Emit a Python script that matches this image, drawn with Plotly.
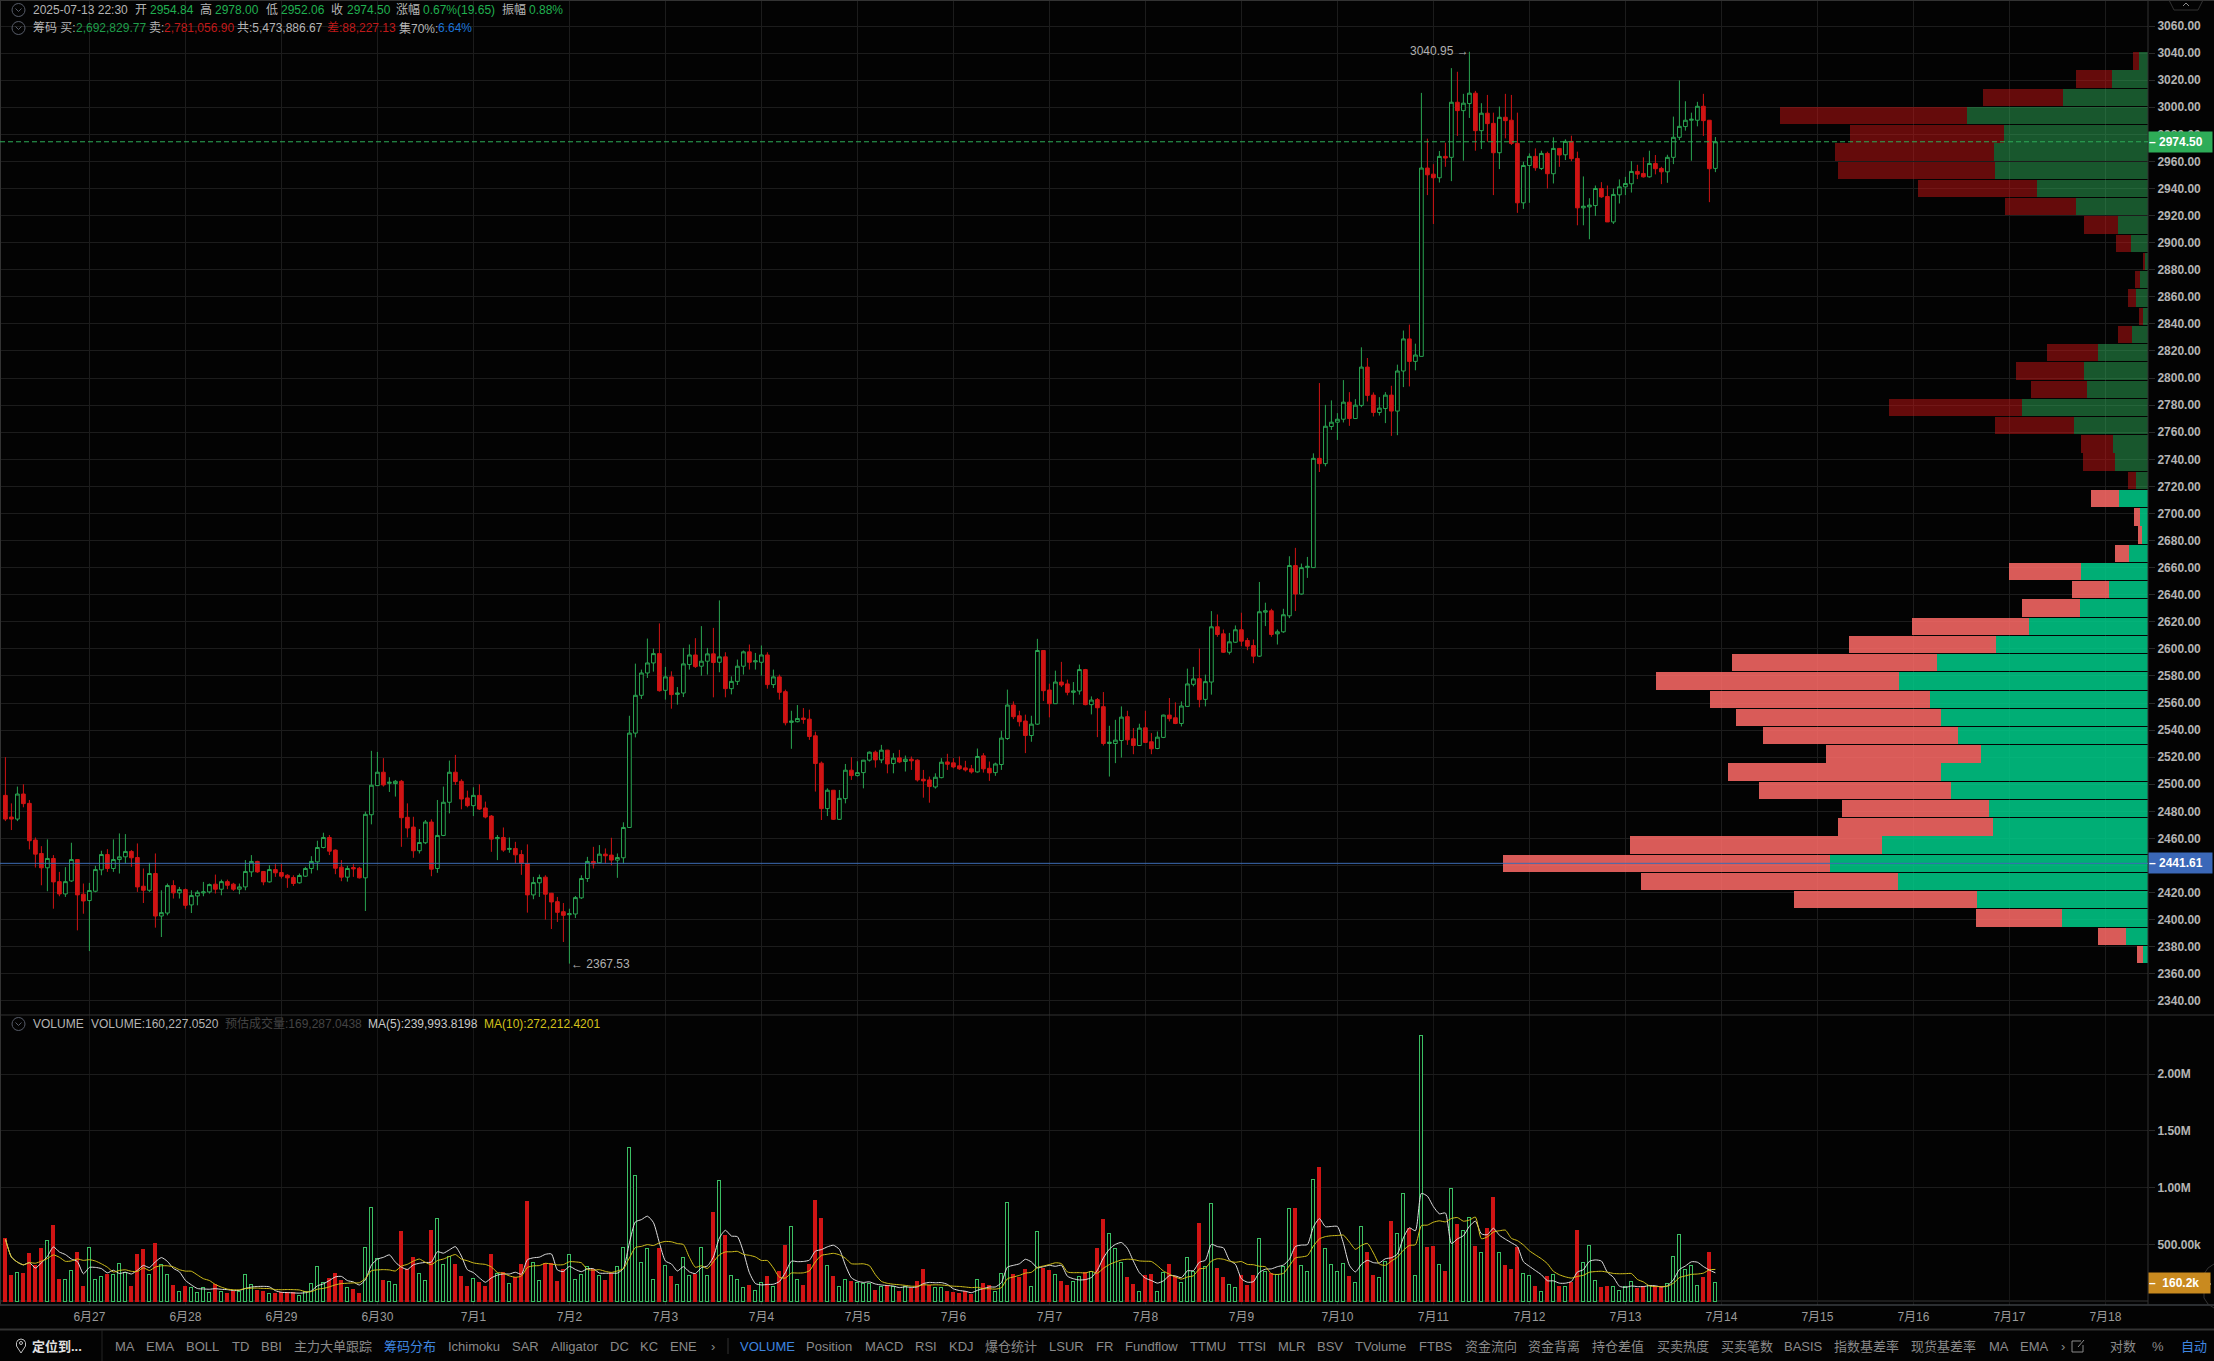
import pandas as pd
import plotly.graph_objects as go

W, H = 2214, 1361

opens = [2491.8,2475.8,2474.3,2492.8,2485.9,2458.8,2448.9,2438.3,2445.2,2428.1,
2419,2428.6,2444.4,2418.8,2414.1,2421,2436.8,2448.1,2437.8,2444.4,
2446.4,2450.4,2445.9,2424.7,2421.7,2434.1,2402.7,2404.9,2425.2,2419.8,
2422.2,2410.9,2417.5,2419.8,2420.5,2426.2,2422.5,2428.1,2426.2,2422.5,
2424.2,2435.3,2443,2435.6,2427.9,2437,2434.8,2432.8,2431.1,2427.2,
2432.1,2437.8,2442.7,2453.3,2460.7,2451.4,2438.8,2431.4,2438.5,2438,
2430.9,2477.5,2499,2508.9,2500.7,2500.5,2502.2,2475.6,2468.4,2450.9,
2456.8,2472.1,2437.8,2462.2,2486.7,2508.9,2502.2,2489.9,2484.2,2491.8,
2482.5,2476.5,2459.8,2460.7,2451.9,2452.6,2448.1,2441.5,2418.3,2427.2,
2431.4,2419.5,2413.3,2405.9,2403.7,2404.2,2416.1,2430.4,2443,2442,
2448.4,2447.7,2444,2445.7,2468.1,2537.8,2565.7,2582.2,2589.6,2596.5,
2569.4,2579.3,2566.4,2567.4,2588.4,2595.5,2587.2,2590.9,2596.3,2590.1,
2594.1,2570.6,2576,2587.2,2597.8,2590.4,2590.1,2595.5,2573.6,2579.3,
2568.4,2545.7,2546.2,2548.9,2548.1,2535.8,2515.6,2482,2495.6,2474.1,
2489.4,2510.4,2506.4,2508.6,2517.8,2523.7,2518,2525.2,2515.3,2519.5,
2516.8,2518.5,2517.8,2503.7,2503.2,2498,2504.9,2516.5,2515.8,2513.6,
2512.1,2511.4,2509.1,2521,2511.8,2508.6,2514.6,2533.8,2558.5,2550.6,
2546.7,2536,2544.4,2598.8,2569.6,2559.5,2575.5,2574.1,2567.9,2568.9,
2584.7,2558.8,2562.5,2557.3,2530.1,2530.1,2532.3,2549.9,2533.6,2528.6,
2541.7,2531.4,2526.4,2534.6,2551.1,2549.1,2544.9,2557.5,2573.8,2578,
2562.7,2575.5,2616.3,2611.1,2597.5,2604.9,2614.1,2606.2,2602.5,2594.6,
2627.1,2628.1,2611.1,2612.6,2624.4,2661.5,2640.5,2660,2660,2740.7,
2736.8,2764.2,2767.4,2769.6,2782.2,2770.1,2779.8,2808.1,2787.4,2774.6,
2777.5,2787.4,2775.6,2805.2,2828.9,2812.3,2816,2955.1,2950.6,2947.9,
2963.7,2963,3003.7,2997.5,3002.7,3010.4,2982.7,2995.6,2988.1,2966.4,
2992.6,2990.4,2973.3,2929.4,2957,2963.7,2954.8,2965.9,2950.9,2969.6,
2964.9,2974.8,2962.2,2925.7,2926.4,2927.4,2940,2934.1,2915.3,2935.3,
2941.2,2943.5,2952.6,2951.1,2948.6,2958.5,2954.8,2952.3,2963,2977.8,
2985.7,2990.4,2990.4,3000.7,2990.4,2954.84]

highs = [2520,2485.9,2498.3,2500,2488.4,2460.7,2454.3,2459.3,2447.7,2435.3,
2438.8,2456.8,2444.4,2426.7,2427.2,2439.8,2450.9,2452.1,2459.3,2463.7,
2463.2,2451.4,2456.3,2437.8,2442,2448.9,2421.7,2426.7,2429.1,2424.2,
2423,2421.7,2421.7,2427.9,2426.7,2433.3,2429.6,2429.6,2427.2,2426.7,
2444,2447.7,2443.5,2435.8,2440.2,2441,2441,2433.6,2432.8,2434.1,
2439,2446.9,2458.3,2464.2,2462.5,2451.9,2444,2439.8,2441,2439,
2479.8,2524.7,2523.9,2519.3,2505.2,2503.2,2503.2,2485.9,2476,2466.9,
2473.6,2474.1,2488.4,2498.3,2517.5,2521.7,2503.7,2495.3,2497.8,2500,
2487.2,2477.3,2462.5,2468.1,2460.7,2457.5,2451.4,2455.6,2431.6,2433.3,
2432.8,2419.8,2416.8,2412.3,2408.1,2417.5,2432.8,2446.4,2453.8,2455.1,
2452.6,2460.5,2448.9,2471.9,2550.6,2589.1,2584.7,2607.6,2600.2,2618.8,
2586.7,2583.4,2571.8,2600.7,2603.2,2607.9,2616.8,2600.7,2615.5,2635.8,
2597.5,2579.7,2592.1,2598.8,2603.2,2597,2602.5,2597.5,2584.7,2581,
2569.9,2554.3,2558.5,2556.3,2555.1,2538.8,2516.8,2497,2495.8,2495.8,
2515,2520,2517,2518,2524.2,2524.9,2529.1,2525.4,2523,2525.4,
2521.2,2520.5,2518.5,2510.6,2505.7,2508.1,2519.3,2522.5,2519.3,2520.5,
2517.3,2514.3,2526.4,2523,2516.8,2516,2539.5,2569.9,2561.2,2554.3,
2551.4,2550.6,2607.4,2598.8,2574.3,2583.9,2590.4,2577.3,2575.5,2588.4,
2585.2,2564.9,2563.7,2568.1,2543.2,2547.6,2557.5,2554.3,2541.5,2544.7,
2554.3,2537.8,2539,2551.4,2563.7,2560.5,2561.2,2585.4,2586.7,2600.2,
2581,2627.9,2625.4,2614.3,2611.8,2617.3,2626.7,2608.1,2606.9,2649.4,
2634.1,2629.6,2614.3,2629.6,2668.4,2674.6,2663,2667.9,2744.4,2796.3,
2780.2,2783.5,2774.1,2798.5,2789.6,2784.4,2822.7,2814.8,2789.4,2785.9,
2789.6,2794.3,2809.9,2835.1,2839.5,2825.4,3010.6,2976.8,2958,2967.7,
2973.8,3028.9,3026.2,3009.9,3040.95,3012.1,3003,3009.1,2996,3000.5,
3009.9,3009.1,2996,2959.8,2965.9,2969.6,2967.9,2967.2,2977.8,2969.6,
2976.3,2979,2967.2,2948.9,2932.8,2942.2,2944.7,2942.2,2940,2946.7,
2948.6,2960.2,2957.5,2963,2967.9,2964.7,2956,2964.9,2993.1,3019.8,
3004.4,2996,3004,3009.9,2990.6,2978]

lows = [2472.8,2466.2,2472.8,2483,2451.9,2438.5,2425.4,2421,2408.1,2417.3,
2416.8,2427.9,2392.1,2404.4,2376.8,2420.2,2432.8,2435.3,2435.3,2434.1,
2441.5,2439,2420.5,2412.3,2420.5,2394.1,2387.2,2403.2,2415.6,2415.6,
2408.1,2404.9,2410.6,2417.3,2419.3,2419.3,2418,2422.5,2421.2,2418.8,
2421.7,2431.6,2434.6,2425.4,2427.4,2431.6,2430.4,2423.5,2424.9,2426.7,
2431.6,2434.1,2436.5,2452.6,2447.7,2433.6,2428.4,2428.1,2431.6,2430.4,
2406.4,2470.4,2498.8,2498.3,2494.3,2490.9,2453.8,2460.7,2445.7,2448.9,
2455.8,2432.1,2434.6,2461.7,2478.5,2499.5,2481.5,2483,2476.5,2481,
2474.8,2450.1,2444,2450.1,2449.4,2441.5,2433.1,2405.2,2415.1,2416.8,
2400,2393.1,2398.3,2383.5,2367.53,2401.2,2415.3,2427.9,2437.8,2441.5,
2441.5,2440.2,2430.9,2441.5,2468.1,2534.6,2563,2578.5,2583.2,2568.4,
2562.5,2555.8,2558.8,2564.4,2584.7,2585.9,2580.2,2581,2564.2,2582.7,
2564.2,2566.4,2573.3,2581,2584.7,2584.7,2580.2,2570.6,2571.1,2562.5,
2543.5,2526.2,2545.7,2544.7,2532.8,2494.6,2473.6,2476.5,2473.6,2473.6,
2485.9,2503.2,2505.7,2497,2516.8,2512.3,2515.6,2508.1,2508.1,2515.6,
2509.4,2510.6,2502,2490.1,2486.4,2496.8,2504.4,2510.6,2511.8,2510.6,
2509.4,2507.9,2508.6,2508.6,2502.5,2506.2,2510.6,2532.8,2548.1,2542.7,
2523,2531.4,2543.9,2561.5,2549.4,2559.5,2571.8,2565.7,2558.8,2566.2,
2558.3,2551.6,2534.8,2528.6,2505.7,2515.6,2519.7,2529.1,2522.2,2528.4,
2530.4,2522.2,2525.9,2534.1,2546.4,2544.4,2542.7,2557,2572.3,2556.8,
2557.5,2566.2,2608.9,2597,2595.8,2604.4,2602,2599,2589.4,2594.1,
2616.8,2608.9,2603.2,2611.8,2622.7,2627.9,2640,2652.4,2660,2730.6,
2734.8,2761.7,2754.3,2767.2,2764.7,2769.9,2778.5,2782.7,2771.6,2772.3,
2766.7,2757.3,2757.8,2793.3,2793.8,2805.7,2816,2935.1,2913.8,2944.4,
2956,2945.4,2978.8,2960.5,2992.1,2967.9,2969.1,2974.6,2935.1,2954.3,
2977,2972.1,2922,2924.9,2929.4,2953.1,2953.6,2940,2943.7,2956,
2961,2960.2,2912.8,2912.8,2902.5,2919.8,2933.1,2915.3,2913.8,2928.9,
2935.1,2937,2946.9,2948.1,2948.1,2950.4,2943.2,2944.2,2958,2975.8,
2982.7,2960.5,2985.9,2978.8,2929.9,2952.06]

closes = [2474.3,2474.3,2492.8,2485.7,2458.3,2448.4,2438.3,2445.2,2427.9,2419,
2428.1,2444.4,2418.3,2413.8,2421.5,2437,2448.1,2437.8,2444.4,2446.4,
2450.4,2445.7,2424.2,2421.7,2434.1,2402.7,2405.2,2425.2,2419.8,2422.2,
2410.6,2417.8,2420.2,2420.5,2425.9,2422.5,2428.1,2425.4,2422.5,2424.2,
2435.6,2443,2435.3,2427.9,2437,2434.6,2432.1,2430.9,2426.7,2432.6,
2437.8,2443,2453.3,2460.7,2450.6,2438,2431.4,2437.8,2437.5,2430.9,
2477.8,2499.3,2508.9,2499.5,2501.5,2502.2,2475.3,2467.7,2450.9,2457,
2472.1,2437.3,2462.2,2486.7,2508.9,2502,2489.1,2484.2,2491.8,2481.7,
2475.8,2459.5,2460.7,2451.4,2452.6,2447.9,2441.5,2418.3,2427.4,2431.1,
2418.8,2413.1,2405.4,2403.2,2404.4,2416.3,2430.4,2443,2441.2,2448.4,
2447.2,2444,2445.9,2468.1,2537.8,2565.7,2582.2,2589.6,2596.5,2569.1,
2579.3,2566.2,2567.4,2588.9,2595.5,2586.9,2590.9,2596.3,2589.9,2594.1,
2570.6,2576,2587.2,2597.8,2590.1,2591.1,2595.5,2573.6,2579.3,2567.9,
2545.4,2546.7,2548.6,2547.9,2535.3,2515.3,2482,2495.6,2474.1,2489.6,
2510.4,2506.4,2508.6,2517.8,2523.7,2518,2525.2,2515,2519.3,2516.5,
2518.5,2517.3,2503.2,2502.5,2498.3,2505.2,2516.3,2514.8,2512.8,2511.4,
2510.6,2509.1,2520.5,2511.4,2508.4,2515,2534.1,2558.5,2549.9,2546.2,
2536,2544.4,2598.8,2569.1,2559.5,2575.5,2573.3,2567.9,2568.9,2584.7,
2558.8,2562.2,2556.5,2530.1,2531.1,2532.6,2549.6,2532.8,2528.6,2541.5,
2530.9,2526.2,2534.8,2551.1,2548.4,2544.9,2557.8,2574.1,2577.8,2562.5,
2575.8,2616.3,2610.6,2597.5,2605.2,2614.1,2605.7,2602,2594.6,2627.4,
2628.1,2610.6,2612.6,2625.2,2661.5,2640.5,2660,2661,2740.7,2736.8,
2764.4,2767.4,2769.6,2782.2,2770.1,2780,2808.1,2787.2,2774.6,2777.8,
2787.4,2775.6,2805.2,2828.9,2812.3,2817,2955.1,2950.1,2947.9,2963.7,
2962.5,3003.7,2997.5,3003,3010.4,2982.7,2995.6,2987.9,2966.4,2992.6,
2990.1,2973.3,2929.4,2957,2963.7,2955.3,2965.9,2950.9,2969.6,2964.7,
2974.8,2962,2925.7,2926.9,2927.7,2940,2933.8,2915.3,2935.6,2941.2,
2943.7,2952.6,2950.6,2948.6,2958.5,2954.6,2952.3,2963,2977.8,2985.9,
2990.4,2991.1,3000.7,2990.1,2954.6,2974.5]

volumes_k = [547,229,253,247,415,309,459,538,662,194,
194,265,424,124,474,194,212,238,238,332,
250,132,406,450,238,503,318,238,141,88,
124,118,79,121,76,150,88,65,82,82,
238,147,91,88,62,68,74,79,74,50,
88,156,300,162,200,244,179,115,103,65,
474,826,376,185,174,150,609,274,388,244,
185,626,729,326,391,326,212,124,200,159,
132,406,244,253,156,209,318,882,341,185,
332,335,176,274,412,194,238,303,276,221,
185,244,306,474,1356,1109,344,459,194,459,
309,212,150,385,229,235,474,221,785,1065,
574,221,191,121,141,97,159,212,132,259,
494,659,191,141,318,891,724,315,212,132,
191,176,165,156,156,97,132,141,132,88,
132,106,168,274,141,115,115,88,79,65,
82,53,191,156,138,82,244,871,238,206,
282,124,615,288,265,238,168,135,176,212,
253,262,459,715,597,465,344,203,150,88,
224,238,88,250,318,212,162,388,259,688,
300,862,291,203,147,115,226,138,229,553,
256,241,235,300,812,812,309,256,1073,1182,
459,318,256,332,212,165,653,432,229,203,
347,697,597,944,641,221,2340,476,485,324,
256,994,679,626,738,485,432,644,909,432,
309,274,476,244,226,124,88,212,238,124,
124,165,626,344,491,185,115,132,124,97,
132,176,106,124,141,124,124,156,394,588,
282,309,138,203,432,160.2]

chip_buy = [2600,11870,45470,90420,132240,168540,140980,82150,84270,104410,
109710,88510,100700,109710,115540,131970,111830,80560,63070,36040,
20670,35510,10070,3180,4240,15370,6360,17490,18550,39220,
66780,32330,33920,26500,8480,2650,6520,4400,1750,9170,
16060,38320,58990,81250,81780,76480,96090,45210,19240,4930]
chip_sell = [3340,14730,45740,97360,136210,173050,133300,82150,77910,101760,
112890,82150,103350,108650,116600,128790,108650,77910,62010,30740,
19610,38160,7420,2120,3180,14840,4240,16960,16960,41870,
70490,29680,36040,27030,7420,2120,4240,2650,1060,7950,
18020,37630,63070,83210,84270,81620,98850,42400,19080,3180]

price_ticks = list(range(2340, 3080, 20))
price_tick_text = ["" if p == 2440 else f"{p}.00" for p in price_ticks]
volume_ticks = [500000, 1000000, 1500000, 2000000]
volume_tick_text = ["500.00k", "1.00M", "1.50M", "2.00M"]
day_ticks = pd.date_range("2025-06-27", "2025-07-18", freq="D")
day_text = [f"{d.month}月{d.day}" for d in day_ticks]

times = pd.date_range("2025-06-26 03:00", periods=len(opens), freq="90min")
volumes = pd.Series(volumes_k) * 1000
ma5 = volumes.rolling(5, min_periods=1).mean()
ma10 = volumes.rolling(10, min_periods=1).mean()

PRICE_LOW, PRICE_HIGH = 2367.53, 3040.95
BIN = (PRICE_HIGH - PRICE_LOW) / len(chip_buy)
bin_centers = [PRICE_LOW + (k + 0.5) * BIN for k in range(len(chip_buy))]
SPLIT = 26  # bins from here upward are drawn in the dark colours

GREEN, RED = "#2aa552", "#d01414"
VOL_GREEN = "#3bbf63"
GRID = "#1c1c1c"
FONT = "Liberation Sans, Noto Sans CJK SC, sans-serif"
px = lambda v: v / W
py = lambda v: 1 - v / H
is_up = [c >= o for o, c in zip(opens, closes)]

fig = go.Figure()
fig.add_trace(go.Candlestick(
    x=times, open=opens, high=highs, low=lows, close=closes, xaxis="x", yaxis="y",
    whiskerwidth=0,
    increasing=dict(line=dict(color=GREEN, width=1), fillcolor="rgba(0,0,0,0.9)"),
    decreasing=dict(line=dict(color=RED, width=1), fillcolor=RED),
    showlegend=False, hoverinfo="skip"))
fig.add_trace(go.Bar(
    y=bin_centers, x=chip_buy, orientation="h", xaxis="x3", yaxis="y", width=BIN * 0.95,
    marker=dict(line=dict(width=0), color=["rgba(0,204,138,.85)" if k < SPLIT else "rgba(46,172,88,.5)"
                                            for k in range(len(chip_buy))]),
    showlegend=False, hoverinfo="skip"))
fig.add_trace(go.Bar(
    y=bin_centers, x=chip_sell, orientation="h", xaxis="x3", yaxis="y", width=BIN * 0.95,
    marker=dict(line=dict(width=0), color=["rgba(255,107,103,.85)" if k < SPLIT else "rgba(200,20,20,.5)"
                                            for k in range(len(chip_sell))]),
    showlegend=False, hoverinfo="skip"))
fig.add_trace(go.Bar(
    x=times, y=volumes, xaxis="x2", yaxis="y2", width=90 * 60 * 1000 * 0.52,
    marker=dict(color=["#030303" if u else RED for u in is_up],
                line=dict(color=[VOL_GREEN if u else RED for u in is_up], width=1)),
    showlegend=False, hoverinfo="skip"))
fig.add_trace(go.Scatter(x=times, y=ma5, xaxis="x2", yaxis="y2", mode="lines",
                         line=dict(color="#e0e0e0", width=1, shape="spline", smoothing=0.6),
                         showlegend=False, hoverinfo="skip"))
fig.add_trace(go.Scatter(x=times, y=ma10, xaxis="x2", yaxis="y2", mode="lines",
                         line=dict(color="#d4c21c", width=1, shape="spline", smoothing=0.6),
                         showlegend=False, hoverinfo="skip"))

annotations = []
def note(text, x, y, color="#b0b0b0", size=12, bold=False):
    annotations.append(dict(text=f"<b>{text}</b>" if bold else text, x=px(x - 1), y=py(y),
                            xref="paper", yref="paper", xanchor="left", yanchor="middle", borderpad=0,
                            showarrow=False, font=dict(family=FONT, size=size, color=color)))

UP = "#20b050"
for t, x, c in [("2025-07-13 22:30", 33, "#b5b5b5"), ("开", 135, "#b5b5b5"), ("2954.84", 150, UP),
                ("高", 200, "#b5b5b5"), ("2978.00", 215.4, UP), ("低", 266, "#b5b5b5"),
                ("2952.06", 281, UP), ("收", 331, "#b5b5b5"), ("2974.50", 346.6, UP),
                ("涨幅", 395.6, "#b5b5b5"), ("0.67%(19.65)", 423, UP), ("振幅", 502, "#b5b5b5"),
                ("0.88%", 529, UP)]:
    note(t, x, 10, c)
for t, x, c in [("筹码 买:", 33, "#b5b5b5"), ("2,692,829.77", 76, "#1f9e4a"), ("卖:", 149, "#b5b5b5"),
                ("2,781,056.90", 164.4, "#c01a1a"), ("共:5,473,886.67", 237, "#b5b5b5"),
                ("差:88,227.13", 326.5, "#c01a1a"), ("集70%:", 399, "#b5b5b5"), ("6.64%", 438, "#1d74d8")]:
    note(t, x, 28, c)
for t, x, c in [("VOLUME", 33, "#b5b5b5"), ("VOLUME:160,227.0520", 90.5, "#b5b5b5"),
                ("预估成交量:169,287.0438", 224.5, "#444444"), ("MA(5):239,993.8198", 368, "#c8c8c8"),
                ("MA(10):272,212.4201", 484, "#d4c21c")]:
    note(t, x, 1024, c)

tool_items = [("MA", 115), ("EMA", 146), ("BOLL", 186), ("TD", 231.5), ("BBI", 261), ("主力大单跟踪", 294),
              ("Ichimoku", 448), ("SAR", 512), ("Alligator", 551), ("DC", 610), ("KC", 640), ("ENE", 670),
              ("›", 711), ("Position", 806), ("MACD", 865), ("RSI", 914.5), ("KDJ", 949), ("爆仓统计", 985),
              ("LSUR", 1049), ("FR", 1096), ("Fundflow", 1125), ("TTMU", 1190), ("TTSI", 1238), ("MLR", 1278),
              ("BSV", 1317), ("TVolume", 1355), ("FTBS", 1419), ("资金流向", 1464.5), ("资金背离", 1528),
              ("持仓差值", 1592), ("买卖热度", 1656.5), ("买卖笔数", 1721), ("BASIS", 1784), ("指数基差率", 1834),
              ("现货基差率", 1911), ("MA", 1989), ("EMA", 2020), ("›", 2061), ("对数", 2110), ("%", 2152)]
for t, x in tool_items:
    note(t, x, 1346, "#8a8a8a", 13)
for t, x in [("筹码分布", 384), ("VOLUME", 740), ("自动", 2181)]:
    note(t, x, 1346, "#3f86e0", 13)
note("定位到...", 32, 1346, "#e0e0e0", 13, bold=True)

annotations += [
    dict(text="3040.95 →", x=times[244], y=3040.95, xref="x", yref="y", xanchor="right", yanchor="middle",
         xshift=1, yshift=1, borderpad=0, showarrow=False, font=dict(family=FONT, size=12, color="#b0b0b0")),
    dict(text="← 2367.53", x=times[94], y=2367.53, xref="x", yref="y", xanchor="left", yanchor="middle",
         xshift=1, borderpad=0, showarrow=False, font=dict(family=FONT, size=12, color="#b0b0b0")),
    dict(text="<b>– 2974.50</b>", x=px(2148), y=2974.5, xref="paper", yref="y", xanchor="left", yanchor="middle",
         width=63, height=20, align="left", borderpad=0, bgcolor="#2eac58", showarrow=False,
         font=dict(family=FONT, size=12, color="#ffffff")),
    dict(text="<b>– 2441.61</b>", x=px(2148), y=2441.61, xref="paper", yref="y", xanchor="left", yanchor="middle",
         width=63, height=20, align="left", borderpad=0, bgcolor="#3b68b8", showarrow=False,
         font=dict(family=FONT, size=12, color="#ffffff")),
    dict(text="<b>–  160.2k</b>", x=px(2148), y=160227, xref="paper", yref="y2", xanchor="left", yanchor="middle",
         width=61, height=20, align="left", borderpad=0, bgcolor="#c98a1f", showarrow=False,
         font=dict(family=FONT, size=12, color="#ffffff")),
]

def hline(y, color, width=1):
    return dict(type="line", xref="paper", yref="paper", x0=0, x1=1, y0=py(y), y1=py(y), layer="above",
                line=dict(color=color, width=width))
def vline(x, y0, y1, color, width=1):
    return dict(type="line", xref="paper", yref="paper", x0=px(x), x1=px(x), y0=py(y0), y1=py(y1), layer="above",
                line=dict(color=color, width=width))
def pth(points, color, close=False):
    d = "M " + " L ".join(f"{px(a)} {py(b)}" for a, b in points) + (" Z" if close else "")
    return dict(type="path", xref="paper", yref="paper", layer="above", path=d, line=dict(color=color, width=1))
def icon(cx, cy):
    return [dict(type="circle", xref="paper", yref="paper", x0=px(cx - 6.5), x1=px(cx + 6.5), y0=py(cy - 6.5),
                 y1=py(cy + 6.5), layer="above", line=dict(color="#565b68", width=1)),
            pth([(cx - 3, cy - 1.5), (cx, cy + 1.5), (cx + 3, cy - 1.5)], "#565b68")]

shapes = [hline(0.5, "#333333"), hline(1015, "#333333"), hline(1305, "#555a60"), hline(1329.5, "#333333", 2),
          vline(0.5, 0, 1305, "#333333"), vline(2148, 0, 1305, "#333333"),
          vline(102, 1330, 1361, "#252525"), vline(728, 1338, 1354, "#333333"),
          dict(type="line", xref="paper", yref="y", x0=0, x1=px(2148), y0=2974.5, y1=2974.5, layer="above",
               line=dict(color="#2eac58", width=1, dash="5px,3px")),
          dict(type="line", xref="paper", yref="y", x0=0, x1=px(2148), y0=2441.61, y1=2441.61, layer="above",
               line=dict(color="#3d6cb4", width=1)),
          pth([(2169, 0), (2174, 10), (2198, 10), (2203, 0)], "#333333"),
          pth([(2183, 6), (2186, 3), (2189, 6)], "#8a8a8a"),
          pth([(2214, 1264), (2208, 1268), (2204, 1274), (2204, 1298), (2208, 1304), (2214, 1308)], "#333333"),
          pth([(2208, 1281), (2211, 1284), (2208, 1287)], "#8a8a8a"),
          pth([(21, 1353), (16.5, 1346), (16.5, 1342.5), (18, 1340), (21, 1339), (24, 1340), (25.5, 1342.5),
               (25.5, 1346)], "#c0c0c0", close=True),
          dict(type="circle", xref="paper", yref="paper", x0=px(19.5), x1=px(22.5), y0=py(1341.5), y1=py(1344.5),
               layer="above", line=dict(color="#c0c0c0", width=1)),
          pth([(2081, 1341), (2072, 1341), (2072, 1352), (2083, 1352), (2083, 1345)], "#8a8a8a"),
          pth([(2078, 1347), (2084, 1340)], "#8a8a8a")]
shapes += icon(18.5, 10) + icon(18.5, 28) + icon(18.5, 1024)

RANGE = ["2025-06-26 01:39", "2025-07-18 10:39"]
fig.update_layout(
    width=W, height=H, margin=dict(l=0, r=0, t=0, b=0), paper_bgcolor="#030303", plot_bgcolor="#030303",
    barmode="stack", boxgap=0.38, boxgroupgap=0, showlegend=False, annotations=annotations, shapes=shapes,
    font=dict(family=FONT),
    xaxis=dict(domain=[0, px(2148)], anchor="y", range=RANGE, type="date", rangeslider=dict(visible=False),
               showticklabels=False, tickvals=day_ticks, showgrid=True, gridcolor=GRID, zeroline=False, ticks=""),
    xaxis2=dict(domain=[0, px(2148)], anchor="y2", range=RANGE, type="date", tickvals=day_ticks, ticktext=day_text,
                showgrid=True, gridcolor="#161616", zeroline=False, ticks="", ticklabelstandoff=3,
                tickfont=dict(family=FONT, size=12, color="#9a9a9a")),
    xaxis3=dict(domain=[0, px(2148)], anchor="y", overlaying="x", range=[1138440, 0], visible=False),
    yaxis=dict(domain=[py(1015), 1], anchor="x", side="right", range=[2329.6, 3079.2], tickvals=price_ticks,
               ticktext=price_tick_text, showgrid=True, gridcolor=GRID, zeroline=False, ticks="outside", ticklen=6,
               tickcolor="#2a2a2a", tickfont=dict(family=FONT, size=12, color="#b4b4b4", weight=600)),
    yaxis2=dict(domain=[py(1305), py(1015)], anchor="x2", side="right", range=[-35300, 2523000], tickvals=volume_ticks,
                ticktext=volume_tick_text, showgrid=True, gridcolor=GRID, zeroline=True, zerolinecolor=GRID,
                ticks="outside", ticklen=6, tickcolor="#2a2a2a",
                tickfont=dict(family=FONT, size=12, color="#b4b4b4", weight=600)),
)
fig.write_html("out.html", config=dict(displayModeBar=False),
               post_script="document.body.style.margin='0';document.body.style.background='#030303';")
